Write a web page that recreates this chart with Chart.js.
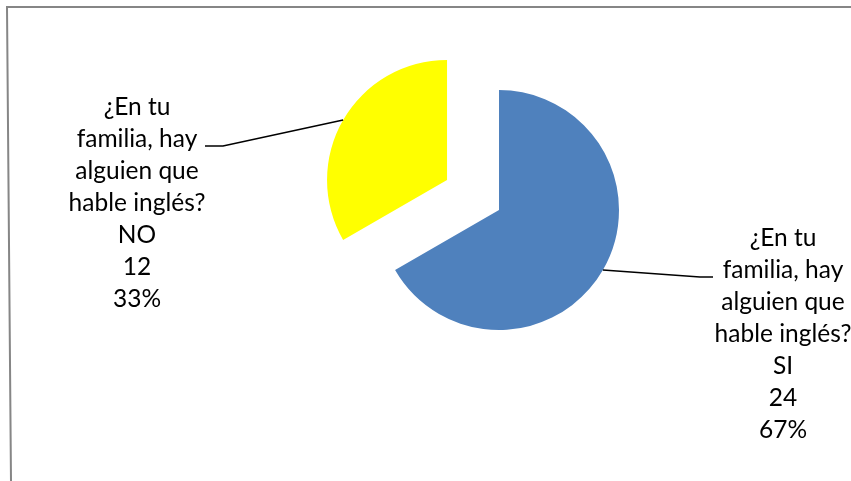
<!DOCTYPE html>
<html>
<head>
<meta charset="utf-8">
<script src="https://cdn.jsdelivr.net/npm/chart.js@4"></script>
<style>
    body { margin: 0; background: #fff; }
    canvas { display: block; }
</style>
</head>
<body>
<canvas id="pieChart" width="851" height="481"></canvas>
<script>
// data
const categories = ["SI", "NO"];
const counts = [24, 12];
const seriesName = ["¿En tu", "familia, hay", "alguien que", "hable inglés?"];

// style
const sliceColors = ["#4F81BD", "#FFFF00"];
const explode = [0, 60]; // px that each slice is pulled out
const labelFont = "24.5px Lato";
const lineHeight = 32;
// where each label block sits (center x, first line y) and its leader bend
const labelSpots = [
    { x: 783, y: 238, bend: [[700, 277], [713, 277]] },
    { x: 137, y: 107, bend: [[223, 146], [205, 146]] },
];

const total = counts.reduce((a, b) => a + b, 0);

// pull slices out along their middle angle, like an exploded excel pie
const explodePlugin = {
    id: "explode",
    beforeDatasetDraw(chart, args) {
        const ctx = chart.ctx;
        args.meta.data.forEach((arc, i) => {
            const mid = (arc.startAngle + arc.endAngle) / 2;
            ctx.save();
            ctx.translate(Math.cos(mid) * explode[i], Math.sin(mid) * explode[i]);
            arc.draw(ctx);
            ctx.restore();
        });
        return false;
    },
};

// frame + leader lines + data labels
const labelPlugin = {
    id: "sliceLabels",
    beforeDraw(chart) {
        const ctx = chart.ctx;
        ctx.save();
        ctx.strokeStyle = "#868686";
        ctx.lineWidth = 2;
        ctx.beginPath();
        ctx.moveTo(851, 7);
        ctx.lineTo(7, 7);
        ctx.lineTo(11, 481);
        ctx.stroke();
        ctx.restore();
    },
    afterDatasetsDraw(chart) {
        const ctx = chart.ctx;
        const meta = chart.getDatasetMeta(0);
        ctx.save();
        meta.data.forEach((arc, i) => {
            const mid = (arc.startAngle + arc.endAngle) / 2;
            const r = arc.outerRadius + explode[i];
            const ax = arc.x + Math.cos(mid) * r;
            const ay = arc.y + Math.sin(mid) * r;
            const spot = labelSpots[i];

            ctx.strokeStyle = "#000";
            ctx.lineWidth = 1.5;
            ctx.beginPath();
            ctx.moveTo(ax, ay);
            spot.bend.forEach((p) => ctx.lineTo(p[0], p[1]));
            ctx.stroke();

            const pct = Math.round((counts[i] / total) * 100) + "%";
            const lines = seriesName.concat([categories[i], String(counts[i]), pct]);
            ctx.fillStyle = "#000";
            ctx.font = labelFont;
            ctx.textAlign = "center";
            ctx.textBaseline = "middle";
            lines.forEach((t, j) => {
                ctx.fillText(t, spot.x, spot.y + j * lineHeight);
            });
        });
        ctx.restore();
    },
};

const ctx = document.getElementById("pieChart").getContext("2d");
const pieChart = new Chart(ctx, {
    type: "pie",
    data: {
        labels: categories,
        datasets: [
            {
                data: counts,
                backgroundColor: sliceColors,
                borderWidth: 0,
                hoverOffset: 0,
            },
        ],
    },
    plugins: [explodePlugin, labelPlugin],
    options: {
        responsive: false,
        animation: false,
        radius: 120,
        layout: {
            padding: { left: 147, right: 0, top: 0, bottom: 61 },
        },
        plugins: {
            legend: { display: false },
            tooltip: { enabled: false },
        },
    },
});
</script>
</body>
</html>
